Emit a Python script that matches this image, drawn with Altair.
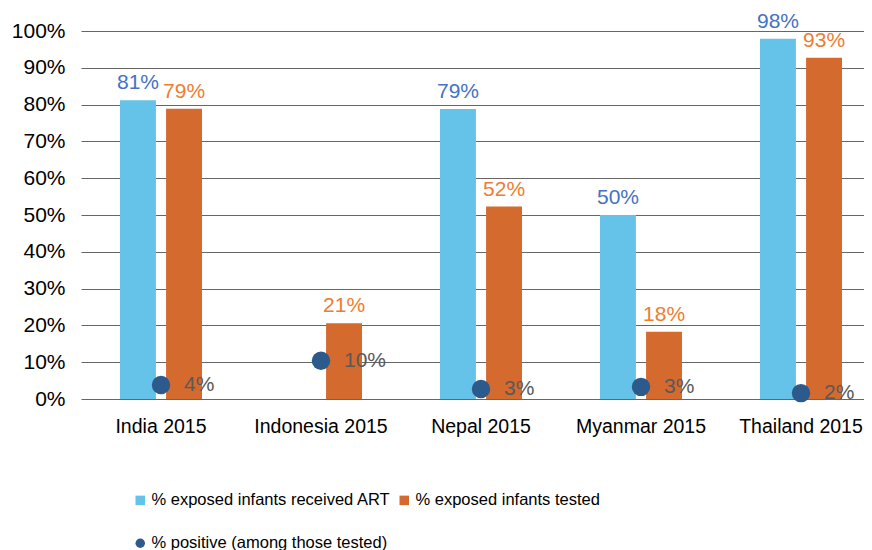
import altair as alt
import pandas as pd

countries = ["India 2015", "Indonesia 2015", "Nepal 2015", "Myanmar 2015", "Thailand 2015"]
series_names = [
    "% exposed infants received ART",
    "% exposed infants tested",
    "% positive (among those tested)",
]
art = [0.812, None, 0.788, 0.50, 0.979]
tested = [0.789, 0.206, 0.523, 0.183, 0.927]
positive = [0.038, 0.104, 0.027, 0.033, 0.016]

rows = []
for i, c in enumerate(countries):
    for s, vals in zip(series_names, [art, tested, positive]):
        if vals[i] is not None:
            rows.append({"country": c, "series": s, "value": vals[i]})
df = pd.DataFrame(rows)

FONT = "Liberation Sans"
color_scale = alt.Scale(domain=series_names, range=["#65C3EA", "#D56A2E", "#2D5A8C"])
shape_scale = alt.Scale(domain=series_names, range=["square", "square", "circle"])

legend = alt.Legend(
    title=None,
    orient="none",
    legendX=51,
    legendY=461,
    direction="horizontal",
    columns=2,
    labelFont=FONT,
    labelFontSize=16.5,
    labelColor="#000000",
    symbolSize=90,
    symbolStrokeWidth=0,
    labelOffset=3,
    columnPadding=5,
    rowPadding=26,
    labelLimit=400,
)

x_enc = alt.X(
    "country:N",
    sort=countries,
    scale=alt.Scale(range=[0, 800], paddingInner=0.4875, paddingOuter=0.24375),
    axis=alt.Axis(
        title=None, labelAngle=0, labelFont=FONT, labelFontSize=19.5,
        labelColor="#000000", labelPadding=18, ticks=False, domain=False,
    ),
)
y_enc = alt.Y(
    "value:Q",
    scale=alt.Scale(domain=[0, 1], nice=False),
    axis=alt.Axis(
        title=None, format=".0%", values=[i / 10 for i in range(11)],
        labelFont=FONT, labelFontSize=21, labelColor="#000000",
        labelPadding=16, ticks=False, domain=False, grid=True,
        gridColor="#666666", gridWidth=1,
    ),
)
xoff = alt.XOffset(
    "series:N",
    scale=alt.Scale(domain=series_names[:2], paddingInner=0.22, paddingOuter=0),
)

base = alt.Chart(df)
bar_data = base.transform_filter(alt.datum.series != series_names[2])
pt_data = base.transform_filter(alt.datum.series == series_names[2])

bars = bar_data.mark_bar().encode(
    x=x_enc, xOffset=xoff, y=y_enc,
    color=alt.Color("series:N", scale=color_scale, legend=legend),
)
bar_labels = bar_data.mark_text(baseline="bottom", dy=-7, font=FONT, fontSize=21).encode(
    x=x_enc, xOffset=xoff, y=y_enc,
    text=alt.Text("value:Q", format=".0%"),
    color=alt.condition(alt.datum.series == series_names[0], alt.value("#4472C4"), alt.value("#ED7D31")),
)
points = pt_data.mark_point(filled=True, size=340, opacity=1).encode(
    x=x_enc, y=y_enc,
    color=alt.Color("series:N", scale=color_scale, legend=legend),
    shape=alt.Shape("series:N", scale=shape_scale, legend=legend),
)
pt_labels = pt_data.mark_text(align="left", baseline="middle", dx=23, font=FONT, fontSize=21, color="#595959").encode(
    x=x_enc, y=y_enc,
    text=alt.Text("value:Q", format=".0%"),
)

chart = alt.layer(bars, bar_labels, points, pt_labels).properties(
    width=783, height=368, autosize="none",
    padding={"left": 73, "top": 23, "right": 0, "bottom": 158},
).configure_view(stroke=None)

chart.save("out.html", embed_options={"renderer": "svg", "actions": False})
